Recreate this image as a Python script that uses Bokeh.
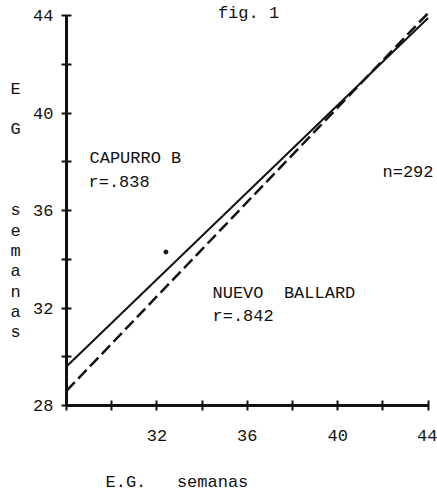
from bokeh.plotting import figure
from bokeh.models import Range1d, FixedTicker, Label, LinearAxis
from bokeh.embed import file_html
from bokeh.resources import INLINE

# ---- data ----
weeks = [28, 44]                 # E.G. semanas (x)
capurro_b = [29.6, 43.9]         # regression line, CAPURRO B (solid)
nuevo_ballard = [28.6, 44.1]     # regression line, NUEVO BALLARD (dashed)
stray_x = [32.4]                 # isolated point
stray_y = [34.3]
tick_values = [28, 30, 32, 34, 36, 38, 40, 42, 44]
x_tick_labels = {28: "", 30: "", 32: "32", 34: "", 36: "36", 38: "", 40: "40", 42: "", 44: "44"}
y_tick_labels = {28: "28", 30: "", 32: "32", 34: "", 36: "36", 38: "", 40: "40", 42: "", 44: "44"}

FONT = "Liberation Mono"
INK = "#111111"

# layout (reference pixel geometry)
W, H = 437, 495
X0, SX = 66, 22.6      # x=28 at px 66, px per week
Y0, SY = 405, 24.375   # y=28 at px 405, px per week


def dx(px):
    return 28 + (px - X0) / SX


def dy(py):
    return 28 + (Y0 - py) / SY


p = figure(width=W, height=H, output_backend="svg", toolbar_location=None,
           x_range=Range1d(dx(0), dx(W)), y_range=Range1d(dy(H), dy(0)),
           x_axis_location=None, y_axis_location=None,
           min_border=0)
p.outline_line_color = None
p.grid.visible = False
p.background_fill_color = "white"
p.border_fill_color = "white"

xax = LinearAxis(fixed_location=28)
yax = LinearAxis(fixed_location=28)
for ax, labels in ((xax, x_tick_labels), (yax, y_tick_labels)):
    ax.bounds = (28, 44)
    ax.ticker = FixedTicker(ticks=tick_values)
    ax.major_label_overrides = labels
    ax.axis_line_width = 3
    ax.axis_line_color = INK
    ax.major_tick_line_color = INK
    ax.major_tick_line_width = 2
    ax.major_tick_in = 5
    ax.major_tick_out = 5
    ax.minor_tick_line_color = None
    ax.major_label_text_font = FONT
    ax.major_label_text_font_size = "17px"
    ax.major_label_text_color = INK
xax.major_label_standoff = 19
yax.major_label_standoff = 8
p.add_layout(xax, "below")
p.add_layout(yax, "left")

p.line(weeks, capurro_b, line_color=INK, line_width=2)
p.line(weeks, nuevo_ballard, line_color=INK, line_width=2.5, line_dash="12 5")
p.scatter(stray_x, stray_y, size=4, color=INK)


def txt(text, px, py, align="left", baseline="middle", **kw):
    p.add_layout(Label(x=dx(px), y=dy(py), text=text, text_font=FONT,
                       text_font_size="17px", text_color=INK,
                       text_align=align, text_baseline=baseline, **kw))


txt("fig. 1", 248, 13, align="center", baseline="alphabetic")
txt("CAPURRO B", 89, 158)
txt("r=.838", 88, 182)
txt("NUEVO\u00a0 BALLARD", 212, 293)
txt("r=.842", 212, 316)
txt("n=292", 382, 172)
txt("E.G.\u00a0\u00a0 semanas", 105, 482)
txt("E\n\nG\n\n\n\ns\ne\nm\na\nn\na\ns", 15, 79, align="center", baseline="top",
    text_line_height=1.07)

open("out.html", "w").write(file_html(p, INLINE))
